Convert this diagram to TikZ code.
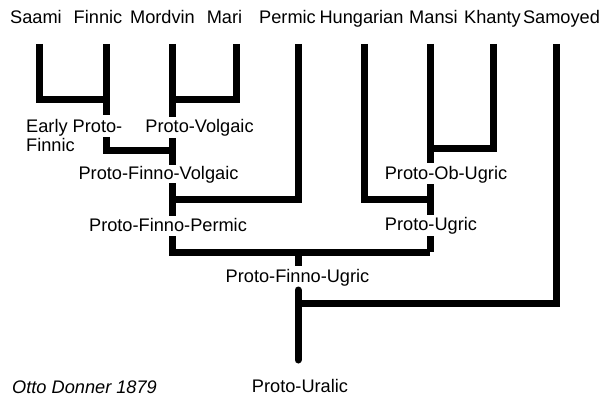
\documentclass[tikz,border=0pt]{standalone}
\usepackage{fontspec}
\setmainfont{Liberation Sans}
\begin{document}
\begin{tikzpicture}[x=1pt,y=-1pt,
  branch/.style={line width=7pt},
  lang/.style={anchor=base,inner sep=0pt,font=\fontsize{18.2}{20}\selectfont},
  proto/.style={anchor=base,inner sep=0pt,font=\fontsize{18.2}{20}\selectfont},
  credit/.style={anchor=base west,inner sep=0pt,font=\fontsize{18.2}{20}\selectfont\itshape}]
\useasboundingbox (0,0) rectangle (604,398);

% daughter languages along the top
\node[lang] (saami)  at (36,23.3)  {Saami};
\node[lang] (finnic) at (98,23.3)  {Finnic};
\node[lang] (mordv)  at (162.5,23.3) {Mordvin};
\node[lang] (mari)   at (224.5,23.3) {Mari};
\node[lang] (permic) at (287.5,23.3) {Permic};
\node[lang] (hung)   at (361.5,23.3) {Hungarian};
\node[lang] (mansi)  at (433.5,23.3) {Mansi};
\node[lang] (khanty) at (492.5,23.3) {Khanty};
\node[lang] (samo)   at (561.5,23.3) {Samoyed};

% reconstructed stages
\node[proto,anchor=base west] (epf1) at (26,133) {Early Proto-};
\node[proto,anchor=base west] (epf2) at (26,151) {Finnic};
\node[proto] (pvol)  at (199.5,133) {Proto-Volgaic};
\node[proto] (pfv)   at (158.5,179) {Proto-Finno-Volgaic};
\node[proto] (pobu)  at (446,179)   {Proto-Ob-Ugric};
\node[proto] (pfp)   at (168,231)   {Proto-Finno-Permic};
\node[proto] (pugr)  at (431,230.5) {Proto-Ugric};
\node[proto] (pfu)   at (297.5,282.5) {Proto-Finno-Ugric};
\node[proto] (pur)   at (300,392)   {Proto-Uralic};
\node[credit] (src)  at (12,393)    {Otto Donner 1879};

% branch ends and junctions
\coordinate (tSaami)  at (39.5,44);
\coordinate (tFinnic) at (106.5,44);
\coordinate (tMordv)  at (172.5,44);
\coordinate (tMari)   at (236.5,44);
\coordinate (tPermic) at (298,44);
\coordinate (tHung)   at (364,44);
\coordinate (tMansi)  at (430,44);
\coordinate (tKhanty) at (493.5,44);
\coordinate (tSamo)   at (556.5,44);

\coordinate (jSF)   at (106.5,100);
\coordinate (eSF)   at (106.5,115);
\coordinate (sEPF)  at (106.5,137);
\coordinate (jMM)   at (172.5,100);
\coordinate (ePV)   at (172.5,117);
\coordinate (sPV)   at (172.5,138);
\coordinate (jFV)   at (172.5,151);
\coordinate (ePFV)  at (172.5,165);
\coordinate (sPFV)  at (172.5,183);
\coordinate (jFP)   at (172.5,199);
\coordinate (ePFP)  at (172.5,216);
\coordinate (sPFP)  at (172.5,236);
\coordinate (jMK)   at (430,148.5);
\coordinate (ePOU)  at (430,163);
\coordinate (sPOU)  at (430,184);
\coordinate (jUg)   at (430,199);
\coordinate (ePU)   at (430,215);
\coordinate (sPU)   at (430,236);
\coordinate (jPU)   at (430,252);
\coordinate (jFU)   at (298,252);
\coordinate (ePFU)  at (298,266);
\coordinate (sPFU)  at (298,290);
\coordinate (jUr)   at (298,303);
\coordinate (ePUr)  at (298,360);

% Finnic and Saami
\draw[branch] (tSaami) |- (jSF);
\draw[branch] (tFinnic) -- (eSF);
\draw[branch] (sEPF) |- (jFV);
% Volgaic
\draw[branch] (tMari) |- (jMM);
\draw[branch] (tMordv) -- (ePV);
\draw[branch] (sPV) -- (ePFV);
% Permic
\draw[branch] (tPermic) |- (jFP);
\draw[branch] (sPFV) -- (ePFP);
\draw[branch] (sPFP) |- (jPU);
% Ugric
\draw[branch] (tKhanty) |- (jMK);
\draw[branch] (tMansi) -- (ePOU);
\draw[branch] (tHung) |- (jUg);
\draw[branch] (sPOU) -- (ePU);
\draw[branch] (sPU) -- (jPU);
% Uralic
\draw[branch] (jFU) -- (ePFU);
\draw[branch] (tSamo) |- (jUr);
\draw[branch,line cap=round] (sPFU) -- (ePUr);
\end{tikzpicture}
\end{document}
